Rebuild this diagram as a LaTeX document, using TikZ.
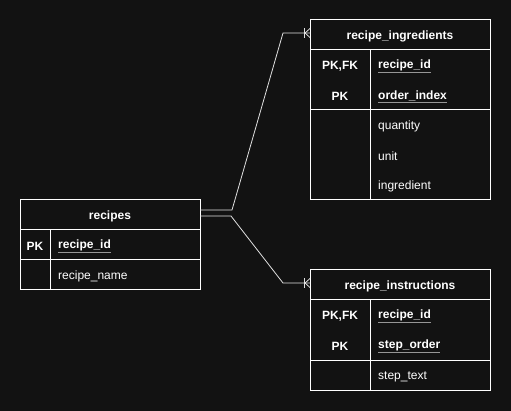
\documentclass[tikz,border=0pt]{standalone}
\usepackage{fontspec}
\setmainfont{Liberation Sans}
\definecolor{bg}{RGB}{18,18,18}
\definecolor{ink}{RGB}{255,255,255}
\definecolor{ulgray}{RGB}{150,150,150}
\definecolor{wire}{RGB}{225,225,225}
\newcommand\keyfield[1]{\rlap{\textcolor{ulgray}{\underline{\phantom{#1}}}}#1}
\begin{document}
\begin{tikzpicture}[x=1pt,y=-1pt,
  cell/.style={draw=ink, line width=1pt, inner sep=0pt, outer sep=0pt, anchor=north west},
  title/.style={text=ink, font=\fontsize{12}{14}\selectfont\bfseries, yshift=-1.5pt},
  keylbl/.style={text=ink, font=\fontsize{12}{14}\selectfont\bfseries, yshift=-1.5pt},
  field/.style={text=ink, font=\fontsize{12}{14}\selectfont, anchor=west, inner sep=0pt, yshift=-1.5pt},
  keyname/.style={field, font=\fontsize{12}{14}\selectfont\bfseries},
  rel/.style={draw=wire, line width=0.8pt}]
\fill[bg] (0,0) rectangle (511,411);
\useasboundingbox (0,0) rectangle (511,411);

% ---- recipes ----
\node[cell, minimum width=180pt, minimum height=30pt] (rHead) at (20,200) {};
\node[title] at (rHead.center) {recipes};
\node[cell, minimum width=30pt, minimum height=30pt] (rK1) at (20,230) {};
\node[cell, minimum width=150pt, minimum height=30pt] (rF1) at (50,230) {};
\node[cell, minimum width=30pt, minimum height=30pt] (rK2) at (20,260) {};
\node[cell, minimum width=150pt, minimum height=30pt] (rF2) at (50,260) {};
\node[keylbl] at (rK1.center) {PK};
\node[keyname] at ([xshift=8pt]rF1.west) {\keyfield{recipe\_id}};
\node[field] at ([xshift=8pt]rF2.west) {recipe\_name};

% ---- recipe_ingredients ----
\node[cell, minimum width=180pt, minimum height=30pt] (iHead) at (310,20) {};
\node[title] at (iHead.center) {recipe\_ingredients};
\node[cell, minimum width=60pt, minimum height=60pt] (iKeys) at (310,50) {};
\node[cell, minimum width=120pt, minimum height=60pt] (iKeyF) at (370,50) {};
\node[cell, minimum width=60pt, minimum height=90pt] (iAttrK) at (310,110) {};
\node[cell, minimum width=120pt, minimum height=90pt] (iAttr) at (370,110) {};
\node[keylbl] (iK1) at (340,65) {PK,FK};
\node[keylbl] (iK2) at (340,95) {PK};
\node[keyname] (iF1) at (378,65) {\keyfield{recipe\_id}};
\node[keyname] (iF2) at (378,95) {\keyfield{order\_index}};
\node[field] (iF3) at (378,125) {quantity};
\node[field] (iF4) at (378,155) {unit};
\node[field] (iF5) at (378,185) {ingredient};

% ---- recipe_instructions ----
\node[cell, minimum width=180pt, minimum height=30pt] (sHead) at (310,270) {};
\node[title] at (sHead.center) {recipe\_instructions};
\node[cell, minimum width=60pt, minimum height=60pt] (sKeys) at (310,300) {};
\node[cell, minimum width=120pt, minimum height=60pt] (sKeyF) at (370,300) {};
\node[cell, minimum width=60pt, minimum height=30pt] (sAttrK) at (310,360) {};
\node[cell, minimum width=120pt, minimum height=30pt] (sAttr) at (370,360) {};
\node[keylbl] (sK1) at (340,315) {PK,FK};
\node[keylbl] (sK2) at (340,345) {PK};
\node[keyname] (sF1) at (378,315) {\keyfield{recipe\_id}};
\node[keyname] (sF2) at (378,345) {\keyfield{step\_order}};
\node[field] (sF3) at (378,375) {step\_text};

% ---- relationship ends (canvas shifts: negative is downward) ----
\coordinate (a1) at ([yshift=-10pt]rHead.north east);
\coordinate (a2) at ([yshift=-16pt]rHead.north east);
\coordinate (b1) at ([yshift=-13pt]iHead.north west);
\coordinate (b2) at ([yshift=-13pt]sHead.north west);

\draw[rel] (a1) -- ++(32,0) -- (283,33) -- (b1);
\draw[rel] (a2) -- ++(31,0) -- (283,283) -- (b2);

% one-or-many markers
\foreach \e in {b1,b2}{
  \draw[rel] ([xshift=-6pt,yshift=-5pt]\e) -- ([xshift=-6pt,yshift=5pt]\e);
  \draw[rel] ([xshift=-5pt]\e) -- ([yshift=-4.5pt]\e);
  \draw[rel] ([xshift=-5pt]\e) -- ([yshift=4.5pt]\e);
}
\end{tikzpicture}
\end{document}
